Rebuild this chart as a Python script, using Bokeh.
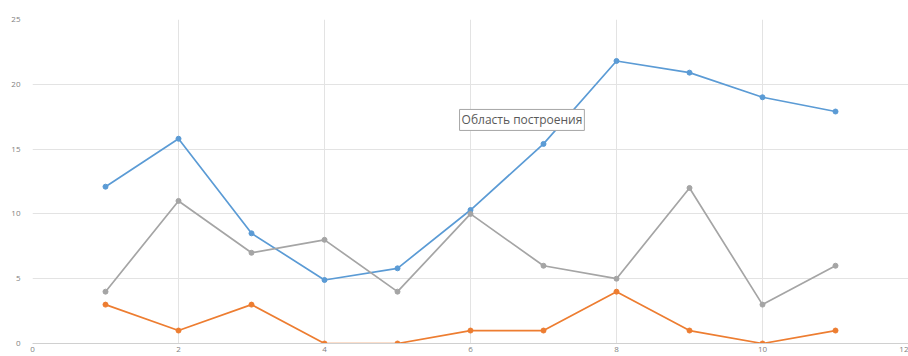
from bokeh.plotting import figure
from bokeh.models import Range1d, FixedTicker, Label
from bokeh.embed import file_html
from bokeh.resources import INLINE

# Series data
x_vals = [1, 2, 3, 4, 5, 6, 7, 8, 9, 10, 11]
series_blue = [12.1, 15.8, 8.5, 4.9, 5.8, 10.3, 15.4, 21.8, 20.9, 19.0, 17.9]
series_orange = [3, 1, 3, 0, 0, 1, 1, 4, 1, 0, 1]
series_gray = [4, 11, 7, 8, 4, 10, 6, 5, 12, 3, 6]

x_ticks = [0, 2, 4, 6, 8, 10, 12]
y_ticks = [0, 5, 10, 15, 20, 25]

colors = {"blue": "#5b9bd5", "orange": "#ed7d31", "gray": "#a5a5a5"}

p = figure(
    width=908, height=356,
    x_range=Range1d(0, 12), y_range=Range1d(0, 25),
    output_backend="svg", toolbar_location=None,
    min_border_left=32, min_border_right=0, min_border_top=19, min_border_bottom=13,
)
p.outline_line_color = None
p.background_fill_color = "white"
p.border_fill_color = "white"

for ax in (p.xaxis, p.yaxis):
    ax.major_tick_line_color = None
    ax.minor_tick_line_color = None
    ax.major_tick_out = 0
    ax.major_tick_in = 0
    ax.minor_tick_out = 0
    ax.minor_tick_in = 0
    ax.major_label_text_font = "Open Sans"
    ax.major_label_text_font_size = "8px"
    ax.major_label_text_color = "#7f7f7f"
p.xaxis.ticker = FixedTicker(ticks=x_ticks)
p.yaxis.ticker = FixedTicker(ticks=y_ticks)
p.xaxis.axis_line_color = "#d0d0d0"
p.yaxis.axis_line_color = None
p.xaxis.major_label_standoff = 3
p.yaxis.major_label_standoff = 12

p.xgrid.grid_line_color = "#e3e3e3"
p.ygrid.grid_line_color = "#e3e3e3"

for ys, c in ((series_blue, colors["blue"]), (series_orange, colors["orange"]), (series_gray, colors["gray"])):
    p.line(x_vals, ys, line_color=c, line_width=1.7)
    p.scatter(x_vals, ys, size=5, fill_color=c, line_color=c)

# Hover-style caption over the plot area
caption = Label(
    x=5.85, y=17.25, text="Область построения",
    text_font="Open Sans", text_font_size="12px", text_color="#595959",
    text_baseline="middle",
    background_fill_color="white", background_fill_alpha=1.0,
    border_line_color="#a6a6a6", border_line_width=1,
    padding=2,
)
p.add_layout(caption)

open("out.html", "w").write(file_html(p, INLINE))
